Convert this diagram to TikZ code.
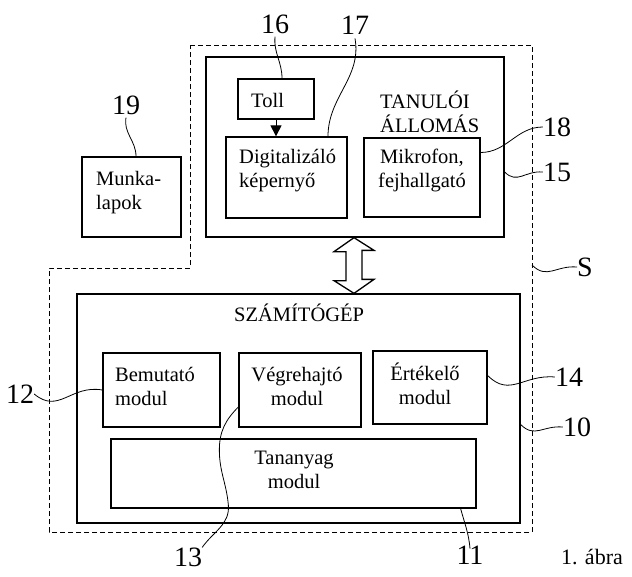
\documentclass[tikz,border=0pt]{standalone}
\usepackage{fontspec}
\setmainfont{Liberation Serif}
\usetikzlibrary{arrows.meta,calc}

\begin{document}
\begin{tikzpicture}[x=1pt, y=1pt,
  box/.style={draw, line width=1.3pt, inner sep=0pt},
  txt/.style={font=\fontsize{20.5}{24}\selectfont, inner sep=0pt},
  num/.style={font=\fontsize{28}{32}\selectfont, inner sep=0pt},
  lead/.style={line width=0.8pt},
  wave/.style={out=-45,in=175,looseness=1.2},
  hollow/.style={line width=1.3pt, line join=miter}]
\useasboundingbox (0,0) rectangle (632,-576);

% system S (dashed outline)
\draw[line width=0.9pt, dash pattern=on 5pt off 3pt]
  (190,-45) -- (532,-45) -- (532,-532) -- (49,-532) -- (49,-268) -- (190,-268) -- cycle;
\coordinate (sEdge) at (532,-265);

% tanuloi allomas
\node[box, minimum width=298, minimum height=180] (tan) at (355,-147) {};
\node[box, minimum width=76, minimum height=40] (toll) at (276,-99) {};
\node[box, minimum width=121, minimum height=81] (dig) at (286.5,-177.5) {};
\node[box, minimum width=116, minimum height=79] (mik) at (422,-177.5) {};
\node[txt, anchor=west] at (251,-100) {Toll};
\node[txt, anchor=west, align=left] at (380,-112) {TANULÓI\\ÁLLOMÁS};
\node[txt, anchor=west, align=left] at (239,-170.5) {Digitalizáló\\képernyő};
\node[txt, align=center] at (422,-170.5) {Mikrofon,\\fejhallgató};
\draw[line width=1pt, -{Triangle[length=11pt,width=11pt]}] (toll.south) -- (toll.south |- dig.north);

% munkalapok
\node[box, minimum width=99, minimum height=80] (munka) at (131.5,-197) {};
\node[txt, anchor=west, align=left] at (96,-192.5) {Munka-\\lapok};

% szamitogep
\node[box, minimum width=443, minimum height=229] (comp) at (298.5,-408.5) {};
\node[box, minimum width=117, minimum height=74] (bem) at (161.5,-390) {};
\node[box, minimum width=122, minimum height=74] (veg) at (300,-390) {};
\node[box, minimum width=114, minimum height=73] (ert) at (430,-387.5) {};
\node[box, minimum width=365, minimum height=69] (tmod) at (293.5,-473.5) {};
\node[txt, anchor=west] at (234,-313) {SZÁMÍTÓGÉP};
\node[txt, anchor=west, align=left] at (115,-386) {Bemutató\\modul};
\node[txt, align=center] at (297,-386) {Végrehajtó\\modul};
\node[txt, align=center] at (425,-384) {Értékelő\\modul};
\node[txt, align=center] at (294,-470) {Tananyag\\modul};

% link between station and computer
\coordinate (lnk) at (354,0);
\draw[hollow] (tan.south -| lnk) -- ++(-20,-14) -- ++(12,0) -- ++(0,-29) -- ++(-12,0)
  -- (comp.north -| lnk) -- ++(20,14) -- ++(-12,0) -- ++(0,29) -- ++(12,0) -- cycle;

% reference numerals
\node[num] (l16) at (275,-24) {16};
\node[num] (l17) at (355,-25) {17};
\node[num] (l19) at (126,-105) {19};
\node[num] (l18) at (557,-127) {18};
\node[num] (l15) at (557,-172) {15};
\node[num] (lS) at (585,-267) {S};
\node[num] (l14) at (569,-377) {14};
\node[num] (l10) at (577,-427) {10};
\node[num] (l12) at (20,-394) {12};
\node[num] (l13) at (188,-557) {13};
\node[num] (l11) at (470,-555) {11};
\node[font=\fontsize{22}{26}\selectfont, inner sep=0pt] (fig) at (592,-557) {1. ábra};

% leaders
\draw[lead] ([yshift=-3]l16.south) to[out=-95,in=90] ([xshift=6]toll.north);
\draw[lead] ([yshift=-4]l17.south) to[out=-80,in=90] ([xshift=41.5]dig.north);
\draw[lead] ([yshift=-3]l19.south) to[out=-100,in=90] ([xshift=4.5]munka.north);
\draw[lead] ([yshift=25]mik.east) to[out=0,in=180] (l18.west);
\draw[lead] ([yshift=-25]tan.east) to[wave] (l15.west);
\draw[lead] (sEdge) to[wave] (lS.west);
\draw[lead] ([yshift=12]ert.east) to[wave] (l14.west);
\draw[lead] ([yshift=-16]comp.east) to[wave] (l10.west);
\draw[lead] (l12.east) to[out=-40,in=170,looseness=1.2] (bem.west);
\draw[lead] ([yshift=-17]veg.west) to[out=225,in=90] ++(-19,-43) to[out=-90,in=95] ++(9,-55)
  to[out=-85,in=55] (l13.north east);
\draw[lead] ([xshift=-16]tmod.south east) to[out=-75,in=95] ([yshift=-3]l11.north);
\end{tikzpicture}
\end{document}
